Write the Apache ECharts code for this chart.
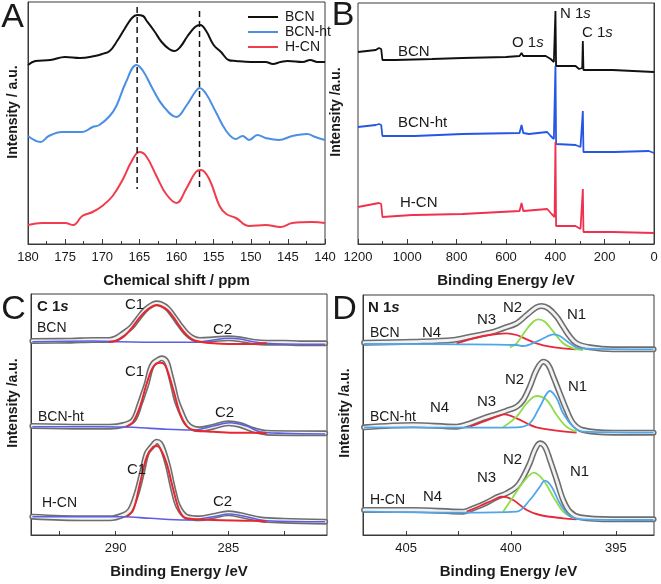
<!DOCTYPE html>
<html><head><meta charset="utf-8">
<script src="https://cdn.jsdelivr.net/npm/echarts@6/dist/echarts.min.js"></script>
<style>html,body{margin:0;padding:0;background:#fff}#c{width:661px;height:584px}</style>
</head><body><div id="c"></div>
<script>
// ---------- Panel A: 13C NMR (ppm, intensity a.u.) ----------
const A_BCN = [[180,179],[179,183],[177,184],[175,187],[173,186],[171,188],[170,190],[169,193],[168,203],[167,215],[166,226],[165.3,229],[164.5,228],[164,223],[163,213],[162,202],[161,195],[160.3,193],[159.5,197],[158.5,208],[157.5,217],[156.8,219],[156,213],[155,199],[154,192],[153,184],[152,183],[150,182],[148,182],[147,180],[146,182],[145,183],[143,182],[142,184],[141,182],[140,182]];
const A_BCNht = [[180,108],[178.3,102],[177.2,108],[175.4,112],[172.7,112],[171.3,117],[170.4,119],[169,128],[168.1,138],[166.8,162],[165.4,179],[164.5,173],[163.2,155],[161.8,138],[160,127],[158.7,138],[157.4,153],[156.9,156],[156,150],[154.7,132],[153.3,113],[152,105],[151.1,108],[150.2,104],[149.1,109],[148,106],[146.2,104],[144.4,108],[142.4,110],[141.3,107],[140,104]];
const A_HCN = [[180,19],[178.1,21],[175,21],[173.9,19],[172.7,28],[171.3,32],[170,38],[168.6,48],[167.2,65],[166.1,82],[165,92],[164.1,88],[162.7,68],[161.4,50],[160,41],[158.7,55],[157.4,72],[156.7,74],[155.6,65],[154.2,38],[153.3,30],[152,26],[150.2,18],[148,19],[146,17],[144.4,21],[141.7,22],[140,21]];
const A_dash1 = [[165.3,237],[165.3,55]];
const A_dash2 = [[156.9,233],[156.9,57]];
const A_names = ['BCN','BCN-ht','H-CN'];

// ---------- Panel B: XPS survey ----------
const B_BCN = [[1200,192],[1128,194],[1115,196],[1106,195],[1101,184],[1047,184],[900,185],[777,186],[600,187],[545,188],[537,191],[530,188],[439,188],[419,185],[406,182],[402,183],[399.5,233],[397,178],[318,178],[304,175],[291,176],[288.5,203],[286,174],[169,174],[0,172]];
const B_BCNht = [[1200,117],[1128,119],[1115,120],[1106,119],[1101,108],[980,108],[975,110],[970,108],[777,110],[545,111],[537,119],[530,111],[507,110],[433,112],[419,108],[406,105],[402,104],[399.5,178],[397,100],[318,99],[298,97],[291,97],[288.5,133],[286,92],[169,92],[165,94],[160,92],[21,93],[0,91]];
const B_HCN = [[1200,37],[1115,41],[1106,40],[1101,27],[980,29],[975,31],[970,29],[777,30],[545,33],[537,41],[530,33],[433,35],[415,30],[403,27],[402,26],[399.5,102],[397,18],[318,18],[298,15],[291,15],[288.5,55],[286,12],[169,12],[0,11]];

// ---------- Panel C: C 1s ----------
const C_BCN_data = [[293.7,194],[292,194.3],[291,195],[290.3,195],[290,196.7],[289.66,201.7],[289.3,208],[289,216.7],[288.7,225],[288.4,230],[288.2,231.7],[288,231],[287.7,226.7],[287.4,218],[287.15,210],[286.85,201.7],[286.56,196.7],[286.26,195],[285.67,195.7],[285,196.7],[284.48,195.7],[283.9,193.3],[283.3,192.3],[282.5,192.3],[281.8,191.7],[280.7,191.7]];
const C_BCN_C1 = [[290.3,193.3],[290,194],[289.66,198],[289.3,206.7],[289,215.7],[288.7,223.3],[288.4,228.3],[288.2,230],[288,229],[287.7,225],[287.4,216.7],[287.15,208.3],[286.85,200],[286.56,195],[286.26,193.3],[285.67,191.7],[285,191],[284,191],[283.3,191.7]];
const C_BCN_C2 = [[293.7,193.3],[291,194],[290,193.3],[288,192.7],[286.5,192.7],[285.67,195],[285,196.7],[284.48,196],[283.9,193.3],[283.3,191.7],[282.5,191],[280.7,190.7]];
const C_BCNht_data = [[293.7,109],[291.44,108.3],[290.26,108.3],[289.66,110],[289.22,115],[288.92,131.7],[288.77,141.7],[288.62,151.7],[288.47,165],[288.33,171.7],[288.18,174.3],[287.96,176.7],[287.74,173.3],[287.59,161.7],[287.44,148.3],[287.3,135],[287.07,121.7],[286.85,111.7],[286.56,106.7],[286.26,105.7],[285.67,108.3],[285,111.7],[284.48,110],[283.89,105],[283.3,102.3],[280.7,101.7]];
const C_BCNht_C1 = [[289.51,108.3],[289.22,113.3],[288.92,128.3],[288.62,151.7],[288.33,168.3],[288.03,172.3],[287.89,171.7],[287.74,166.7],[287.44,145],[287.15,121.7],[286.85,109],[286.56,105],[285.67,103.3],[284.78,102.3],[283.89,102.3],[283.3,101.7]];
const C_BCNht_C2 = [[293.7,108.3],[290.7,108.3],[289.22,107.7],[287.74,105.7],[286.56,105],[285.67,109],[284.93,112.3],[284.19,109],[283.6,103.3],[282.56,101.7],[280.7,101]];
const C_HCN_data = [[293.7,18.3],[291.44,16.7],[290.26,16.7],[289.66,20],[289.36,25],[289.07,41.7],[288.84,61.7],[288.62,81.7],[288.4,88.3],[288.18,93.3],[288.03,91.7],[287.89,85],[287.67,68.3],[287.44,45],[287.22,28.3],[286.85,18.3],[286.26,16.7],[285.67,19],[285,21.7],[284.48,20],[283.6,15.7],[282.56,14.3],[280.7,13.3]];
const C_HCN_C1 = [[289.51,18.3],[289.22,25],[288.92,51.7],[288.62,78.3],[288.33,88.3],[288.18,89],[288.03,86.7],[287.74,71.7],[287.44,45],[287.15,23.3],[286.85,16.7],[285.67,15],[283.89,14.3],[283.3,13.3]];
const C_HCN_C2 = [[293.7,18.3],[289.66,18.3],[288.47,16.7],[286.85,15],[285.67,18.3],[284.93,21],[284.19,18.3],[283.3,14.3],[280.7,13.3]];
const C_ticks = [292.5,290,287.5,285,282.5];
const C_labels = [290,285];

// ---------- Panel D: N 1s ----------
const D_BCN_data = [[407,192.3],[404.65,193.3],[402.75,195],[401.95,198.3],[401,202.3],[400.37,206.7],[399.73,211.7],[399.25,220],[398.78,227.7],[398.54,229],[398.22,226.7],[397.82,218.3],[397.51,208.3],[397.19,198.3],[396.87,191.7],[396.24,187.7],[395.13,185.7],[393.2,185.7]];
const D_BCN_N3 = [[402.59,191.7],[401.95,195.7],[401.32,199],[400.68,201],[400.21,201.7],[399.73,200],[399.25,195.7],[398.78,191.7],[398.14,188.3],[397.51,186.7],[396.87,185.7]];
const D_BCN_N2 = [[400.05,187.7],[399.73,191.7],[399.25,205.7],[398.94,213.3],[398.7,215.7],[398.38,213.3],[397.98,203.3],[397.51,191.7],[397.03,186.7],[396.56,185]];
const D_BCN_N1 = [[407,191],[402.27,190.7],[399.73,190],[399.41,189],[398.78,193.3],[398.3,198.3],[397.98,200.7],[397.67,199],[397.19,191.7],[396.71,186.7],[393.2,185.7]];
const D_BCNht_data = [[407,107.7],[404.65,110],[402.59,108.3],[401.95,111.7],[401.32,116.7],[400.68,121],[400.21,124.3],[399.73,128.3],[399.41,135],[399.1,148.3],[398.78,165],[398.46,173.3],[398.22,170],[397.98,158.3],[397.67,141.7],[397.35,125],[397.03,111.7],[396.56,105],[395.13,102.3],[393.2,102.3]];
const D_BCNht_N3 = [[401.95,108.3],[401.32,113.3],[400.68,118.3],[400.29,120.7],[399.73,116.7],[399.25,111.7],[398.78,107.7],[397.82,104.3],[396.87,102.3]];
const D_BCNht_N2 = [[400.37,107.7],[399.73,118.3],[399.25,131.7],[398.78,139],[398.3,135],[397.82,120],[397.35,108.3],[396.87,103.3]];
const D_BCNht_N1 = [[407,107.7],[402.27,107.3],[399.73,107.7],[399.1,111.7],[398.62,128.3],[398.14,144],[397.82,136.7],[397.51,121.7],[397.03,108.3],[396.56,103.3],[393.2,102.3]];
const D_HCN_data = [[407,25],[404.65,25],[402.27,23.3],[401.79,26.7],[401.16,32.3],[400.68,37.7],[400.21,41.7],[399.73,48.3],[399.41,58.3],[399.1,71.7],[398.86,85],[398.62,91.7],[398.38,88.3],[398.14,75],[397.82,55],[397.51,35],[397.19,23.3],[396.71,17.7],[395.13,15.7],[393.2,15.7]];
const D_HCN_N3 = [[402.11,23.3],[401.48,29],[400.84,35],[400.44,38.3],[399.89,35],[399.25,25],[398.62,20],[397.51,16.7],[396.87,15.7]];
const D_HCN_N2 = [[400.37,23.3],[399.89,38.3],[399.33,55],[398.9,62.3],[398.46,55],[397.98,38.3],[397.51,23.3],[397.03,16.7]];
const D_HCN_N1 = [[407,23.3],[402.27,22.3],[399.73,23.3],[399.1,35],[398.62,48.3],[398.38,54.3],[398.06,48.3],[397.67,31.7],[397.19,19],[396.56,15.7],[393.2,15]];
const D_ticks = [405,402.5,400,397.5,395];
const D_labels = [405,400,395];

// ---------- rendering ----------
const FONT = '"Liberation Sans", Arial, Helvetica, sans-serif';
const TXT = '#1a1a1a';
const FRAME = '#3a3a3a';

function line(name, data, idx, color, width, extra) {
  return Object.assign({
    name, type: 'line', data, xAxisIndex: idx, yAxisIndex: idx,
    showSymbol: false, symbol: 'none', smooth: 0.35, silent: true,
    lineStyle: { color, width }, itemStyle: { color }, z: 3
  }, extra || {});
}
function dots(name, data, idx) {
  return [
    line(name + '_o', data, idx, '#6e6e6e', 6, { z: 2, lineStyle: { color: '#6e6e6e', width: 6, cap: 'round', join: 'round' } }),
    line(name + '_i', data, idx, '#f2f2f2', 2.8, { z: 2, lineStyle: { color: '#f2f2f2', width: 2.8, cap: 'round', join: 'round' } })
  ];
}

const grids = [
  { left: 28, top: 2, width: 297, height: 242 },
  { left: 358, top: 3, width: 296, height: 241 },
  { left: 31, top: 294, width: 296, height: 241 },
  { left: 363, top: 295, width: 291, height: 240 }
].map(g => Object.assign(g, { show: true, borderColor: FRAME, borderWidth: 1, containLabel: false, outerBoundsMode: 'none' }));

const plain = v => String(v);
function xAx(gi, min, max, name, extra) {
  return Object.assign({
    type: 'value', gridIndex: gi, min, max, inverse: true,
    name, nameLocation: 'middle', nameGap: 29,
    nameTextStyle: { fontFamily: FONT, fontWeight: 'bold', fontSize: 15, color: TXT },
    axisLine: { show: true, lineStyle: { color: FRAME, width: 1 } },
    axisTick: { show: true, inside: true, length: 5, lineStyle: { color: FRAME } },
    minorTick: { show: false },
    splitLine: { show: false },
    axisLabel: { show: true, margin: 7, fontFamily: FONT, fontSize: 13, color: TXT, showMinLabel: true, showMaxLabel: true, formatter: plain }
  }, extra || {});
}
const xAxes = [
  xAx(0, 140, 180, 'Chemical shift / ppm', { interval: 5, minorTick: { show: true, splitNumber: 2, length: 3, lineStyle: { color: FRAME } } }),
  xAx(1, 0, 1200, 'Binding Energy /eV', { interval: 200, minorTick: { show: true, splitNumber: 2, length: 3, lineStyle: { color: FRAME } } }),
  xAx(2, 280.62, 293.76, 'Binding Energy /eV', {
    axisTick: { show: true, inside: true, length: 4, customValues: C_ticks, lineStyle: { color: FRAME } },
    axisLabel: { show: true, margin: 7, fontFamily: FONT, fontSize: 13, color: TXT, customValues: C_labels, formatter: plain } }),
  xAx(3, 393.18, 407.05, 'Binding Energy /eV', {
    axisTick: { show: true, inside: true, length: 4, customValues: D_ticks, lineStyle: { color: FRAME } },
    axisLabel: { show: true, margin: 7, fontFamily: FONT, fontSize: 13, color: TXT, customValues: D_labels, formatter: plain } })
];
const yMax = [242, 241, 241, 240];
const yAxes = yMax.map((m, i) => ({
  type: 'value', gridIndex: i, min: 0, max: m,
  axisLine: { show: true, lineStyle: { color: FRAME } }, axisTick: { show: false },
  axisLabel: { show: false }, splitLine: { show: false }
}));

const colA = ['#111111', '#4a8fe4', '#f03c4c'];
const colB = ['#111111', '#2457e6', '#f0304e'];
const cRed = '#e8262e', cBlue = '#5b5ee6';
const dRed = '#e8283a', dGreen = '#8ede4a', dBlue = '#4fa6ea';

const series = [];
[A_BCN, A_BCNht, A_HCN].forEach((d, i) => series.push(line(A_names[i], d, 0, colA[i], 2, { smooth: 0.4 })));
[A_dash1, A_dash2].forEach((d, i) => series.push(line('dash' + i, d, 0, '#111', 1.5, { smooth: false, lineStyle: { color: '#111', width: 1.5, type: [6, 4] } })));
[B_BCN, B_BCNht, B_HCN].forEach((d, i) => series.push(line('B' + i, d, 1, colB[i], 1.8, { smooth: false })));

[[C_BCN_data, C_BCN_C1, C_BCN_C2], [C_BCNht_data, C_BCNht_C1, C_BCNht_C2], [C_HCN_data, C_HCN_C1, C_HCN_C2]].forEach((s, i) => {
  series.push(...dots('Cd' + i, s[0], 2));
  series.push(line('Cc2' + i, s[2], 2, cBlue, 1.6));
  series.push(line('Cc1' + i, s[1], 2, cRed, 2));
});
[[D_BCN_data, D_BCN_N3, D_BCN_N2, D_BCN_N1], [D_BCNht_data, D_BCNht_N3, D_BCNht_N2, D_BCNht_N1], [D_HCN_data, D_HCN_N3, D_HCN_N2, D_HCN_N1]].forEach((s, i) => {
  series.push(...dots('Dd' + i, s[0], 3));
  series.push(line('Dn3' + i, s[1], 3, dRed, 1.8));
  series.push(line('Dn2' + i, s[2], 3, dGreen, 1.8));
  series.push(line('Dn1' + i, s[3], 3, dBlue, 1.8));
});

function t(text, x, y, size, opts) {
  return { type: 'text', x, y, silent: true, z: 100, style: Object.assign({
    text, font: (opts && opts.weight ? opts.weight + ' ' : '') + size + 'px ' + FONT,
    fill: TXT, align: (opts && opts.align) || 'left', verticalAlign: 'middle' }, (opts && opts.style) || {}) , rotation: (opts && opts.rot) || 0 };
}
function orb(el, x, y, size, bold) {
  const w = bold ? 'bold ' : '';
  return { type: 'text', x, y, silent: true, z: 100, style: {
    text: '{a|' + el + ' 1}{b|s}', verticalAlign: 'middle', align: 'left',
    rich: { a: { font: w + size + 'px ' + FONT, fill: TXT }, b: { font: 'italic ' + w + size + 'px ' + FONT, fill: TXT } } } };
}
const graphic = [
  t('A', 12.5, 18, 34, { align: 'center' }), t('B', 343, 16, 34, { align: 'center' }),
  t('C', 13.5, 310, 34, { align: 'center' }), t('D', 344.5, 310, 34, { align: 'center' }),
  t('Intensity / a.u.', 13, 112, 14, { weight: 'bold', align: 'center', rot: Math.PI / 2 }),
  t('Intensity /a.u.', 336, 112, 14, { weight: 'bold', align: 'center', rot: Math.PI / 2 }),
  t('Intensity /a.u.', 13, 403, 14, { weight: 'bold', align: 'center', rot: Math.PI / 2 }),
  t('Intensity /a.u.', 345, 413, 14, { weight: 'bold', align: 'center', rot: Math.PI / 2 }),
  // panel B
  t('BCN', 398, 52, 15), t('BCN-ht', 398, 123, 15), t('H-CN', 400, 203, 15),
  orb('O', 512, 43, 15), orb('N', 560, 14, 15), orb('C', 582, 33, 15),
  // panel C
  orb('C', 37, 307, 15, true), t('BCN', 37, 328, 14), t('C1', 125, 305, 15), t('C2', 213, 330, 15),
  t('BCN-ht', 38, 417, 14), t('C1', 125, 372, 15), t('C2', 215, 413, 15),
  t('H-CN', 42, 503, 14), t('C1', 127, 470, 15), t('C2', 213, 502, 15),
  // panel D
  orb('N', 368, 308, 15, true), t('BCN', 370, 333, 14), t('N4', 422, 333, 15), t('N3', 477, 320, 15), t('N2', 503, 308, 15), t('N1', 567, 315, 15),
  t('BCN-ht', 370, 417, 14), t('N4', 430, 408, 15), t('N3', 477, 402, 15), t('N2', 505, 380, 15), t('N1', 568, 387, 15),
  t('H-CN', 370, 500, 14), t('N4', 423, 497, 15), t('N3', 477, 478, 15), t('N2', 503, 460, 15), t('N1', 570, 472, 15)
];

const chart = echarts.init(document.getElementById('c'), null, { renderer: 'canvas' });
chart.setOption({
  animation: false, backgroundColor: '#fff',
  grid: grids, xAxis: xAxes, yAxis: yAxes, series, graphic,
  legend: { data: A_names, orient: 'vertical', left: 243, top: 5, itemWidth: 30, itemHeight: 2, itemGap: 1,
    icon: 'rect', selectedMode: false, textStyle: { fontFamily: FONT, fontSize: 14, color: TXT, padding: [0, 0, 0, 2] } }
});
</script></body></html>
